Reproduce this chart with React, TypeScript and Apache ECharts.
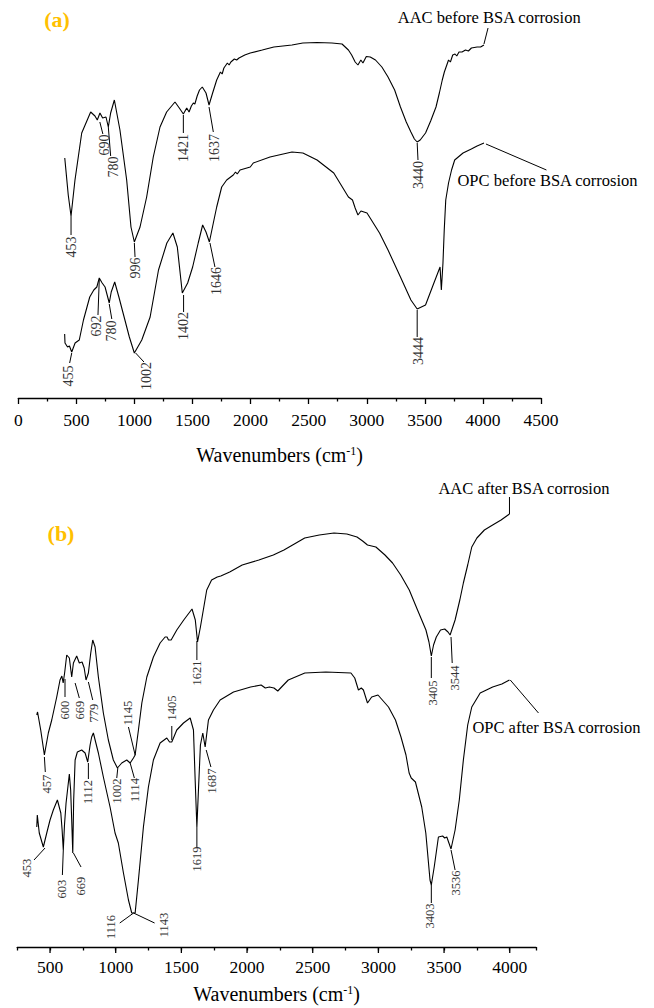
import React, { useEffect, useRef } from "react";
import * as echarts from "echarts";

// ---------- Panel (a): spectra before BSA corrosion (wavenumber cm-1, transmittance a.u.) ----------
const AAC_BEFORE: [number, number][] = [
  [400, 240], [430, 203], [454, 182], [488, 218], [546, 265], [623, 286], [660, 282], [680, 278],
  [703, 285], [726, 280], [755, 281], [775, 271], [795, 285], [827, 298], [875, 268], [933, 218],
  [970, 171], [999, 156], [1048, 171], [1105, 201], [1162, 241], [1220, 271], [1277, 286], [1349, 296],
  [1386, 290], [1421, 284], [1450, 290], [1470, 286], [1490, 292], [1507, 295], [1520, 294], [1540, 302],
  [1560, 308], [1584, 311], [1616, 305], [1642, 293], [1673, 305], [1708, 318], [1740, 326], [1755, 324],
  [1770, 330], [1800, 335], [1815, 333], [1830, 336], [1860, 339], [1880, 338], [1900, 340], [1950, 343],
  [1997, 345], [2100, 348], [2200, 351], [2356, 353], [2450, 355], [2572, 355.5], [2700, 355], [2787, 354],
  [2842, 348], [2870, 343], [2900, 336], [2924, 333], [2949, 338], [2967, 335], [2996, 341.5], [3030, 341],
  [3075, 338], [3130, 331], [3183, 321], [3240, 308], [3290, 291], [3340, 276], [3380, 266], [3410, 259],
  [3434, 256], [3460, 258], [3506, 265], [3550, 277], [3596, 291], [3625, 305], [3650, 318], [3668, 326],
  [3680, 330], [3704, 338], [3720, 336], [3740, 343], [3760, 344], [3775, 342], [3794, 346], [3820, 346],
  [3850, 348], [3875, 347], [3901, 350], [3950, 351], [3980, 351], [4009, 353],
];

const OPC_BEFORE: [number, number][] = [
  [399, 64], [402, 55], [424, 51], [440, 52], [460, 46], [489, 55], [525, 58], [561, 78], [615, 101],
  [650, 108], [676, 111], [697, 120], [722, 115], [747, 111], [765, 103], [783, 95], [800, 106], [830, 116],
  [866, 101], [902, 85], [956, 61], [999, 45], [1063, 58], [1135, 81], [1207, 128], [1279, 155],
  [1331, 165], [1369, 151], [1412, 105], [1458, 115], [1501, 131], [1549, 155], [1587, 173], [1616, 166],
  [1645, 156], [1679, 175], [1708, 191], [1751, 211], [1794, 218], [1851, 223], [1870, 226], [1885, 224],
  [1909, 228], [1997, 231], [2023, 235], [2167, 241], [2356, 246], [2450, 245], [2572, 238], [2716, 225],
  [2842, 201], [2877, 198], [2900, 190], [2924, 183], [2950, 187], [3002, 185], [3110, 165], [3183, 148],
  [3290, 121], [3380, 98], [3434, 89], [3506, 93], [3578, 115], [3631, 131], [3642, 108], [3656, 135],
  [3667, 168], [3680, 198], [3704, 215], [3730, 228], [3757, 238], [3829, 245], [3900, 249], [3950, 252],
  [4009, 255],
];

// ---------- Panel (b): spectra after BSA corrosion ----------
const AAC_AFTER: [number, number][] = [
  [399, 232], [405, 235], [429, 217], [457, 192], [487, 214], [513, 227], [551, 250], [576, 267],
  [590, 271], [600, 264], [612, 275], [627, 292], [647, 289], [665, 270], [678, 284], [703, 291],
  [723, 284], [744, 285], [760, 279], [774, 267], [792, 274], [810, 294], [825, 307], [843, 300],
  [868, 270], [906, 234], [944, 207], [982, 187], [1013, 179], [1046, 184], [1084, 187], [1110, 184],
  [1135, 189], [1148, 192], [1173, 217], [1199, 244], [1237, 270], [1287, 290], [1338, 304], [1376, 310],
  [1391, 310], [1402, 307], [1422, 307], [1465, 317], [1518, 327], [1581, 338], [1606, 327], [1623, 305],
  [1645, 320], [1693, 357], [1730, 367], [1773, 370], [1800, 371], [1868, 375], [1963, 382], [2090, 387],
  [2200, 392], [2281, 397], [2360, 403], [2439, 409], [2550, 412], [2662, 414], [2760, 413], [2837, 410],
  [2880, 406], [2917, 402], [2981, 400], [3050, 392], [3108, 384], [3170, 372], [3235, 357], [3298, 337],
  [3362, 317], [3385, 305], [3403, 291], [3420, 302], [3441, 310], [3473, 317], [3505, 318], [3530, 315],
  [3546, 312], [3584, 327], [3620, 347], [3647, 364], [3680, 382], [3711, 400], [3750, 409], [3807, 417],
  [3870, 422], [3934, 427], [3998, 433],
];

const OPC_AFTER: [number, number][] = [
  [399, 120], [403, 132], [418, 114], [449, 100], [475, 114], [500, 127], [525, 137], [556, 147],
  [582, 134], [592, 117], [601, 97], [610, 122], [622, 144], [647, 173], [657, 157], [665, 127],
  [673, 94], [680, 147], [691, 187], [708, 195], [741, 197], [767, 194], [787, 185], [805, 202],
  [817, 210], [830, 214], [868, 194], [906, 170], [957, 140], [995, 114], [1020, 104], [1059, 74],
  [1097, 47], [1122, 34], [1135, 34], [1148, 34], [1173, 67], [1211, 120], [1249, 160], [1287, 187],
  [1338, 204], [1389, 209], [1410, 205], [1427, 205], [1465, 217], [1516, 224], [1567, 229], [1592, 217],
  [1605, 167], [1618, 120], [1630, 157], [1645, 202], [1663, 214], [1681, 200], [1706, 227], [1744, 237],
  [1795, 247], [1897, 255], [2027, 260], [2107, 262], [2139, 259], [2170, 260], [2205, 259], [2234, 256],
  [2270, 261], [2314, 267], [2440, 274], [2600, 275], [2791, 274], [2820, 269], [2848, 257], [2870, 259],
  [2886, 257], [2917, 244], [2949, 250], [2997, 252], [3077, 240], [3130, 227], [3172, 210], [3210, 192],
  [3234, 174], [3250, 169], [3282, 165], [3330, 140], [3361, 114], [3393, 67], [3403, 62], [3425, 80],
  [3457, 110], [3489, 111], [3505, 109], [3521, 110], [3553, 98], [3584, 117], [3616, 147], [3647, 187],
  [3680, 222], [3711, 240], [3775, 254], [3870, 260], [3940, 263], [3998, 267],
];

// ---------- Axis tick values ----------
const TICKS_A = { min: 0, max: 4500, step: 500 };
const TICKS_B = { min: 250, max: 4200, step: 250 };
const MAJOR_TICKS_B = [500, 1000, 1500, 2000, 2500, 3000, 3500, 4000];

// ---------- Peak annotations: leader from curve point to end point, label centre ----------
type Note = { label: string; from: [number, number]; to: [number, number]; at: [number, number] };

const PEAKS_A: Note[] = [
  { label: "453", from: [454, 182], to: [454, 163], at: [454, 151] },
  { label: "690", from: [702, 276], to: [728, 264], at: [738, 253] },
  { label: "780", from: [775, 271], to: [795, 242], at: [818, 231] },
  { label: "996", from: [999, 155], to: [1005, 141], at: [1011, 130] },
  { label: "1421", from: [1421, 283], to: [1421, 265], at: [1421, 250] },
  { label: "1637", from: [1642, 291], to: [1679, 266], at: [1687, 250] },
  { label: "3440", from: [3434, 255], to: [3441, 238], at: [3444, 223] },
  { label: "1646", from: [1650, 155], to: [1693, 131], at: [1708, 117] },
  { label: "455", from: [460, 45], to: [442, 35], at: [435, 22] },
  { label: "692", from: [697, 118], to: [686, 83], at: [676, 72] },
  { label: "780", from: [783, 94], to: [805, 79], at: [805, 67] },
  { label: "1002", from: [1010, 45], to: [1082, 36], at: [1107, 22] },
  { label: "1402", from: [1423, 103], to: [1423, 86], at: [1423, 72] },
  { label: "3444", from: [3434, 88], to: [3434, 61], at: [3444, 47] },
];

const NAMES_A: Note[] = [
  { label: "AAC before BSA corrosion", from: [4009, 354], to: [4044, 370], at: [4054, 381] },
  { label: "OPC before BSA corrosion", from: [4026, 254], to: [4547, 228], at: [4556, 218] },
];

const PEAKS_B: Note[] = [
  { label: "600", from: [614, 268], to: [614, 250], at: [614, 237] },
  { label: "669", from: [691, 264], to: [723, 249], at: [729, 237] },
  { label: "779", from: [792, 265], to: [825, 247], at: [835, 234] },
  { label: "1145", from: [1148, 192], to: [1097, 220], at: [1097, 234] },
  { label: "1405", from: [1427, 207], to: [1427, 221], at: [1427, 239] },
  { label: "1621", from: [1618, 306], to: [1618, 287], at: [1618, 274] },
  { label: "457", from: [457, 190], to: [464, 175], at: [475, 163] },
  { label: "1112", from: [792, 184], to: [792, 168], at: [787, 155] },
  { label: "1002", from: [1016, 179], to: [1008, 169], at: [1008, 156] },
  { label: "1114", from: [1110, 184], to: [1142, 169], at: [1148, 157] },
  { label: "1687", from: [1689, 197], to: [1725, 180], at: [1732, 166] },
  { label: "453", from: [462, 99], to: [378, 87], at: [322, 79] },
  { label: "603", from: [601, 97], to: [594, 72], at: [589, 58] },
  { label: "669", from: [678, 94], to: [736, 80], at: [736, 61] },
  { label: "1619", from: [1618, 120], to: [1618, 100], at: [1618, 88] },
  { label: "1116", from: [1136, 34], to: [1031, 24], at: [962, 20] },
  { label: "1143", from: [1136, 34], to: [1296, 24], at: [1369, 22] },
  { label: "3405", from: [3403, 290], to: [3403, 269], at: [3415, 254] },
  { label: "3544", from: [3553, 310], to: [3562, 284], at: [3584, 269] },
  { label: "3403", from: [3403, 62], to: [3403, 44], at: [3393, 31] },
  { label: "3536", from: [3553, 97], to: [3584, 77], at: [3594, 64] },
];

const NAMES_B: Note[] = [
  { label: "AAC after BSA corrosion", from: [3998, 433], to: [3998, 450], at: [4108, 459] },
  { label: "OPC after BSA corrosion", from: [4004, 267], to: [4219, 234], at: [4356, 220] },
];

const SERIF = '"Liberation Serif", "Times New Roman", "DejaVu Serif", serif';

function noteSeries(notes: Note[], axis: number, vertical: boolean, fontSize: number, color: string) {
  return {
    type: "custom",
    xAxisIndex: axis,
    yAxisIndex: axis,
    clip: false,
    silent: true,
    z: 5,
    data: notes.map((n) => [n.from[0], n.from[1], n.to[0], n.to[1], n.at[0], n.at[1]]),
    encode: { x: [0, 2, 4], y: [1, 3, 5] },
    renderItem: (params: any, api: any) => {
      const a = api.coord([api.value(0), api.value(1)]);
      const b = api.coord([api.value(2), api.value(3)]);
      const t = api.coord([api.value(4), api.value(5)]);
      const n = notes[params.dataIndex];
      return {
        type: "group",
        children: [
          {
            type: "line",
            shape: { x1: a[0], y1: a[1], x2: b[0], y2: b[1] },
            style: { stroke: "#000", lineWidth: 1 },
          },
          {
            type: "text",
            x: t[0],
            y: t[1],
            rotation: vertical ? Math.PI / 2 : 0,
            style: {
              text: n.label,
              fill: color,
              fontSize,
              fontFamily: SERIF,
              align: "center",
              verticalAlign: "middle",
            },
          },
        ],
      };
    },
  };
}

// long (major) tick marks for panel (b), placed through the axis scale
function majorTickSeries(values: number[], axis: number) {
  return {
    type: "custom",
    xAxisIndex: axis,
    yAxisIndex: axis,
    clip: false,
    silent: true,
    data: values.map((v) => [v, 0]),
    renderItem: (_params: any, api: any) => {
      const p = api.coord([api.value(0), 0]);
      return {
        type: "line",
        shape: { x1: p[0], y1: p[1], x2: p[0], y2: p[1] + 6 },
        style: { stroke: "#000", lineWidth: 1.3 },
      };
    },
  };
}

function lineSeries(data: [number, number][], axis: number) {
  return {
    type: "line",
    xAxisIndex: axis,
    yAxisIndex: axis,
    data,
    showSymbol: false,
    symbol: "none",
    silent: true,
    lineStyle: { color: "#000", width: 1.1 },
  };
}

const axisLineStyle = { color: "#000", width: 1.3 };
const nameStyle = {
  fontSize: 20,
  fontFamily: SERIF,
  color: "#000",
  rich: { sup: { fontSize: 12, fontFamily: SERIF, color: "#000", verticalAlign: "top", padding: [0, 0, 8, 0] } },
};

export default function App() {
  const ref = useRef<HTMLDivElement>(null);
  useEffect(() => {
    if (!ref.current) return;
    const chart = echarts.init(ref.current, undefined, { renderer: "svg" });
    chart.setOption({
      animation: false,
      backgroundColor: "#fff",
      grid: [
        { left: 18.3, right: 113, top: 10, bottom: 610 },
        { left: 17.2, right: 118, top: 480, bottom: 61 },
      ],
      xAxis: [
        {
          gridIndex: 0,
          type: "value",
          min: TICKS_A.min,
          max: TICKS_A.max,
          interval: TICKS_A.step,
          splitLine: { show: false },
          axisLine: { onZero: false, lineStyle: axisLineStyle },
          axisTick: { length: 6, lineStyle: axisLineStyle },
          minorTick: { show: true, splitNumber: 2, length: 3.5, lineStyle: axisLineStyle },
          axisLabel: {
            color: "#000",
            fontSize: 17.5,
            fontFamily: SERIF,
            margin: 13,
            formatter: (v: number) => String(v),
          },
          name: "Wavenumbers (cm{sup|-1})",
          nameLocation: "middle",
          nameGap: 47,
          nameTextStyle: nameStyle,
        },
        {
          gridIndex: 1,
          type: "value",
          min: TICKS_B.min,
          max: TICKS_B.max,
          interval: TICKS_B.step,
          splitLine: { show: false },
          axisLine: { onZero: false, lineStyle: axisLineStyle },
          axisTick: { length: 3.5, lineStyle: axisLineStyle },
          axisLabel: {
            color: "#000",
            fontSize: 17.5,
            fontFamily: SERIF,
            margin: 11,
            formatter: (v: number) => (MAJOR_TICKS_B.indexOf(v) >= 0 ? String(v) : ""),
          },
          name: "Wavenumbers (cm{sup|-1})",
          nameLocation: "middle",
          nameGap: 37,
          nameTextStyle: nameStyle,
        },
      ],
      yAxis: [
        { gridIndex: 0, type: "value", min: 0, max: 388, show: false },
        { gridIndex: 1, type: "value", min: 0, max: 467, show: false },
      ],
      graphic: [
        {
          type: "text",
          x: 57,
          y: 19,
          style: { text: "(a)", fill: "#FFC000", fontSize: 22, fontWeight: "bold", fontFamily: SERIF, align: "center", verticalAlign: "middle" },
        },
        {
          type: "text",
          x: 61,
          y: 533,
          style: { text: "(b)", fill: "#FFC000", fontSize: 22, fontWeight: "bold", fontFamily: SERIF, align: "center", verticalAlign: "middle" },
        },
      ],
      series: [
        lineSeries(AAC_BEFORE, 0),
        lineSeries(OPC_BEFORE, 0),
        noteSeries(PEAKS_A, 0, true, 14, "#333"),
        noteSeries(NAMES_A, 0, false, 16.5, "#000"),
        lineSeries(AAC_AFTER, 1),
        lineSeries(OPC_AFTER, 1),
        noteSeries(PEAKS_B, 1, true, 12.5, "#333"),
        noteSeries(NAMES_B, 1, false, 16.5, "#000"),
        majorTickSeries(MAJOR_TICKS_B, 1),
      ],
    });
    return () => chart.dispose();
  }, []);
  return <div ref={ref} style={{ position: "absolute", left: 0, top: 0, width: 654, height: 1008 }} />;
}
